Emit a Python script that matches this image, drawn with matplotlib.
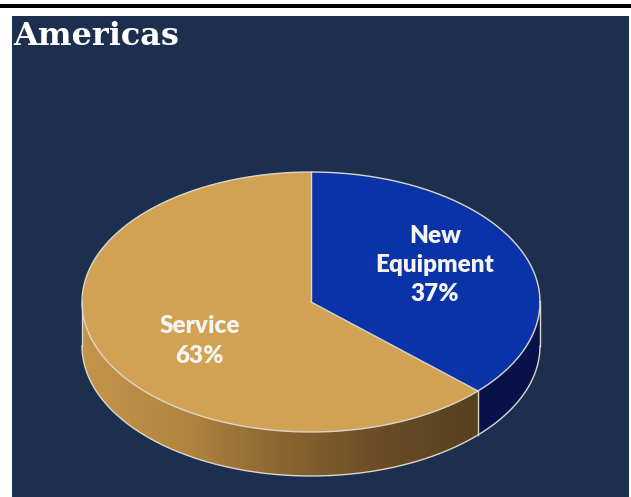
import numpy as np
import matplotlib.pyplot as plt
from matplotlib.patches import Polygon, Rectangle
from matplotlib.colors import LinearSegmentedColormap

# slice data, drawn clockwise from 12 o'clock
labels = ["New\nEquipment", "Service"]
shares = [37, 63]
top_colors = ["#0B33A8", "#D1A253"]
side_colors = ["#07124A", None]  # None -> gold gradient
label_pos = [(435, 265), (200, 341)]

W, H = 631, 497
BG = "#1D2F4F"

# pie geometry in pixels
cx, cy = 311, 302
rx, ry = 229, 130
depth = 44
edge = "#DCD6CA"


def ell(t, dy=0.0):
    t = np.radians(t)
    return cx + rx * np.cos(t), cy - ry * np.sin(t) + dy


fig = plt.figure(figsize=(W / 100, H / 100), dpi=100)
fig.patch.set_facecolor("white")
ax = fig.add_axes([0, 0, 1, 1])
ax.set_xlim(0, W)
ax.set_ylim(H, 0)
ax.axis("off")

# frame
ax.add_patch(Rectangle((0, 3.5), W, 4.5, color="black", lw=0, zorder=0.2))
ax.add_patch(Rectangle((12, 16), 617, H - 16, color=BG, lw=0, zorder=0.2))

ax.text(13, 45, "Americas", color="white", fontsize=23, fontweight="bold",
        family="DejaVu Serif", va="baseline", ha="left", zorder=5)

gold_side = LinearSegmentedColormap.from_list(
    "gold_side", ["#C4944A", "#B3863F", "#8C6632", "#6A4D26", "#56401F"])

# angles for each slice
bounds = []
start = 90.0
for s in shares:
    end = start - s * 3.6
    bounds.append((start, end))
    start = end

# side walls (front half only)
for (t0, t1), sc in zip(bounds, side_colors):
    lo, hi = max(t1, -180.0), min(t0, 0.0)
    if lo >= hi:
        continue
    ts = np.linspace(hi, lo, 120)
    xt, yt = ell(ts)
    xb, yb = ell(ts[::-1], depth)
    pts = np.column_stack([np.r_[xt, xb], np.r_[yt, yb]])
    if sc is not None:
        ax.add_patch(Polygon(pts, closed=True, facecolor=sc, edgecolor="none", zorder=1))
    else:
        poly = Polygon(pts, closed=True, facecolor="none", edgecolor="none", zorder=1)
        ax.add_patch(poly)
        grad = np.linspace(0, 1, 256)[None, :]
        im = ax.imshow(grad, cmap=gold_side, aspect="auto", zorder=1,
                       extent=(cx - rx, cx + rx * np.cos(np.radians(hi)), cy + ry + depth, cy - ry))
        im.set_clip_path(poly)

# top faces
for (t0, t1), tc in zip(bounds, top_colors):
    ts = np.linspace(t0, t1, 200)
    xs, ys = ell(ts)
    pts = np.column_stack([np.r_[cx, xs], np.r_[cy, ys]])
    ax.add_patch(Polygon(pts, closed=True, facecolor=tc, edgecolor="none", zorder=2))

# outlines
ts = np.linspace(0, 360, 400)
ax.plot(*ell(ts), color=edge, lw=1.0, zorder=3)
ts = np.linspace(-180, 0, 200)
ax.plot(*ell(ts, depth), color=edge, lw=1.0, zorder=3)
for t in [-180.0, 0.0] + [b[1] for b in bounds if -180 < b[1] < 0]:
    x0, y0 = ell(t)
    ax.plot([x0, x0], [y0, y0 + depth], color=edge, lw=1.0, zorder=3)
for t0, _ in bounds:
    x0, y0 = ell(t0)
    ax.plot([cx, x0], [cy, y0], color=edge, lw=1.0, zorder=3)

# labels
for lab, s, (lx, ly) in zip(labels, shares, label_pos):
    ax.text(lx, ly, f"{lab}\n{s}%", color="#F4F4F0", fontsize=17.5, fontweight="heavy",
            family="Lato", ha="center", va="center", linespacing=1.4, zorder=5)

ax.set_xlim(0, W)
ax.set_ylim(H, 0)
fig.savefig("out.png", dpi=100, facecolor=fig.get_facecolor())
